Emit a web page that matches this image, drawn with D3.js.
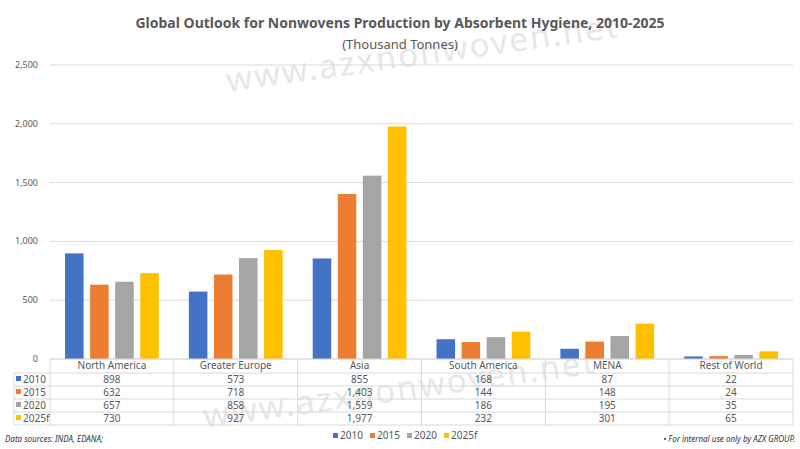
<!DOCTYPE html>
<html><head><meta charset="utf-8">
<script src="https://cdn.jsdelivr.net/npm/d3@7"></script>
<style>body{margin:0;background:#fff}text{font-family:"Noto Sans",sans-serif}</style>
</head><body><svg id="c" width="800" height="449"></svg>
<script>
const categories=["North America","Greater Europe","Asia","South America","MENA","Rest of World"];
const seriesNames=["2010","2015","2020","2025f"];
const s2010=[898,573,855,168,87,22];
const s2015=[632,718,1403,144,148,24];
const s2020=[657,858,1559,186,195,35];
const s2025=[730,927,1977,232,301,65];
const yTicks=[0,500,1000,1500,2000,2500];
const colors=["#4472C4","#ED7D31","#A5A5A5","#FFC000"];
const series=[s2010,s2015,s2020,s2025];
const svg=d3.select("#c");
const L=50,R=793,T=65,B=359;
const x=d3.scaleBand().domain(categories).range([L,R]);
const xi=d3.scaleBand().domain(seriesNames).range([0,x.bandwidth()]).paddingInner(0.26).paddingOuter(0.6);
const y=d3.scaleLinear().domain([0,2500]).range([B,T]);
const fmt=d3.format(",");
// watermarks
[[228,92],[205,428]].forEach(([a,b])=>svg.append("text").attr("transform",`translate(${a},${b}) rotate(-8)`).attr("font-size",33).attr("fill","#bbb").attr("opacity",0.35).attr("letter-spacing",2).text("www.azxnonwoven.net"));
svg.append("text").attr("x",400).attr("y",28).attr("text-anchor","middle").attr("font-size",14).attr("font-weight","bold").attr("fill","#595959").text("Global Outlook for Nonwovens Production by Absorbent Hygiene, 2010-2025");
svg.append("text").attr("x",400).attr("y",49).attr("text-anchor","middle").attr("font-size",13).attr("fill","#595959").text("(Thousand Tonnes)");
svg.append("g").selectAll("line").data(yTicks).join("line").attr("x1",L).attr("x2",R).attr("y1",d=>y(d)).attr("y2",d=>y(d)).attr("stroke","#d9d9d9");
svg.append("g").selectAll("text").data(yTicks).join("text").attr("x",38).attr("y",d=>y(d)+3).attr("text-anchor","end").attr("font-size",9).attr("fill","#595959").text(fmt);
series.forEach((s,i)=>{
 svg.append("g").selectAll("rect").data(s).join("rect")
  .attr("x",(d,j)=>x(categories[j])+xi(seriesNames[i])).attr("width",xi.bandwidth())
  .attr("y",d=>y(d)).attr("height",d=>B-y(d)).attr("fill",colors[i]);
});
const rowH=13,tTop=359;
const tg=svg.append("g").attr("font-size",10).attr("fill","#595959");
const gl="#d9d9d9";
for(let r=0;r<=5;r++){const yy=tTop+r*rowH+(r>0?1:0);tg.append("line").attr("x1",r==0?L:14).attr("x2",R).attr("y1",yy).attr("y2",yy).attr("stroke",gl);}
tg.append("line").attr("x1",14).attr("x2",14).attr("y1",tTop+rowH+1).attr("y2",tTop+5*rowH+1).attr("stroke",gl);
categories.forEach(c=>{tg.append("line").attr("x1",x(c)).attr("x2",x(c)).attr("y1",tTop).attr("y2",tTop+5*rowH+1).attr("stroke",gl);});
tg.append("line").attr("x1",R).attr("x2",R).attr("y1",tTop).attr("y2",tTop+5*rowH+1).attr("stroke",gl);
categories.forEach(c=>{tg.append("text").attr("x",x(c)+x.bandwidth()/2).attr("y",tTop+10).attr("text-anchor","middle").text(c);});
series.forEach((s,i)=>{
 const yy=tTop+(i+1)*rowH+11;
 tg.append("rect").attr("x",16).attr("y",yy-7).attr("width",5).attr("height",5).attr("fill",colors[i]);
 tg.append("text").attr("x",23).attr("y",yy).text(seriesNames[i]);
 s.forEach((v,j)=>tg.append("text").attr("x",x(categories[j])+x.bandwidth()/2).attr("y",yy).attr("text-anchor","middle").text(fmt(v)));
});
const lx=[333,370,407,444];
seriesNames.forEach((n,i)=>{svg.append("rect").attr("x",lx[i]).attr("y",433).attr("width",5).attr("height",5).attr("fill",colors[i]);
 svg.append("text").attr("x",lx[i]+7).attr("y",439).attr("font-size",10).attr("fill","#595959").text(n);});
svg.append("text").attr("x",5).attr("y",442).attr("font-size",8).attr("font-style","italic").attr("fill","#333").text("Data sources: INDA, EDANA;");
svg.append("text").attr("x",795).attr("y",442).attr("text-anchor","end").attr("font-size",8).attr("font-style","italic").attr("fill","#333").text("• For internal use only by AZX GROUP.");
</script></body></html>
